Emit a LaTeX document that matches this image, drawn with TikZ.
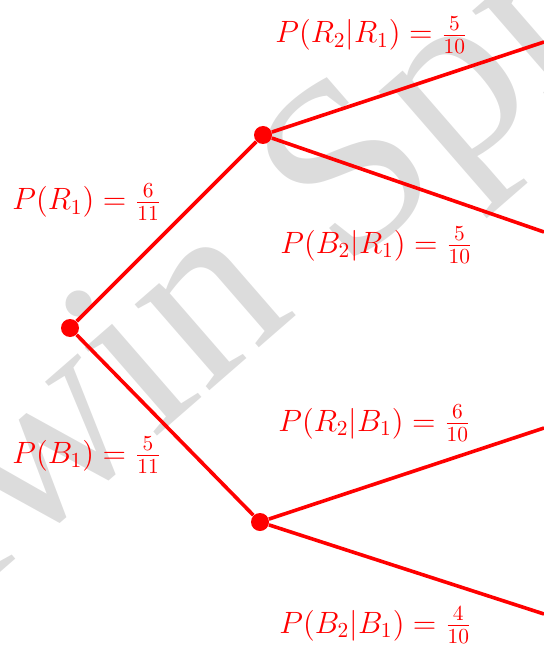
\documentclass[tikz,border=0pt]{standalone}
\usepackage{fontspec}
\usepackage{xcolor}
\newfontfamily\wmfont{Liberation Serif}
\definecolor{tree}{HTML}{FF0000}
\definecolor{faint}{HTML}{DCDCDC}
\tikzset{
  branch/.style={draw=tree, line width=1.8pt},
  dot/.style={circle, fill=tree, inner sep=0pt, minimum size=9pt},
  prob/.style={text=tree, inner sep=0pt, anchor=base west, scale=1.07, font=\Large},
  wm/.style={text=faint, inner sep=0pt, anchor=base west, rotate=41, font=\wmfont\fontsize{124}{124}\selectfont},
}
\begin{document}
\begin{tikzpicture}[x=0.5pt, y=-0.5pt]
\useasboundingbox (0,0) rectangle (544,652);
\clip (0,0) rectangle (544,652);
\node[wm] (stamp) at (-190,738) {Edwin Spr};
% the three forks
\node[dot] (root) at (70,328) {};
\node[dot] (r1) at (263,135) {};
\node[dot] (b1) at (260,522) {};
\coordinate (rr) at (544,42);
\coordinate (rb) at (544,232);
\coordinate (br) at (544,428);
\coordinate (bb) at (544,614);
\draw[branch] (root) -- (r1);
\draw[branch] (root) -- (b1);
\draw[branch] (r1) -- (rr);
\draw[branch] (r1) -- (rb);
\draw[branch] (b1) -- (br);
\draw[branch] (b1) -- (bb);
% probabilities
\node[prob] (pr1) at (12,210) {$P(R_1) = \frac{6}{11}$};
\node[prob] (pb1) at (12,463) {$P(B_1) = \frac{5}{11}$};
\node[prob] (prr) at (275,43) {$P(R_2|R_1) = \frac{5}{10}$};
\node[prob] (prb) at (280,253) {$P(B_2|R_1) = \frac{5}{10}$};
\node[prob] (pbr) at (278,431) {$P(R_2|B_1) = \frac{6}{10}$};
\node[prob] (pbb) at (279,633) {$P(B_2|B_1) = \frac{4}{10}$};
\end{tikzpicture}
\end{document}
